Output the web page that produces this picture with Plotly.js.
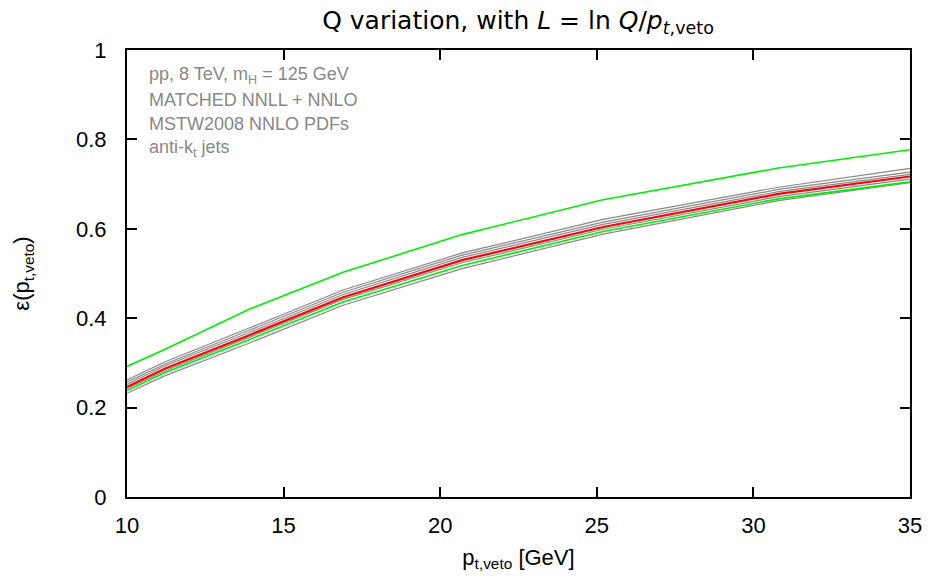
<!DOCTYPE html>
<html>
<head>
<meta charset="utf-8">
<script src="https://cdn.plot.ly/plotly-3.0.1.min.js"></script>
<style>html,body{margin:0;padding:0;background:#fff;}#chart{width:931px;height:580px;}</style>
</head>
<body>
<div id="chart"></div>
<script>
// pt,veto nodes [GeV]
var ptVeto = [10, 11.2, 13.9, 16.9, 20.7, 25.2, 30.8, 35];
// efficiency curves
var greenHi = [0.292, 0.330, 0.420, 0.503, 0.587, 0.665, 0.736, 0.777];
var gray1   = [0.262, 0.302, 0.378, 0.463, 0.546, 0.621, 0.693, 0.735];
var gray2   = [0.257, 0.297, 0.373, 0.458, 0.541, 0.615, 0.688, 0.727];
var gray3   = [0.252, 0.293, 0.368, 0.453, 0.536, 0.610, 0.683, 0.722];
var central = [0.246, 0.287, 0.362, 0.447, 0.530, 0.604, 0.678, 0.717];
var gray4   = [0.242, 0.282, 0.357, 0.442, 0.524, 0.599, 0.672, 0.711];
var greenLo = [0.238, 0.278, 0.352, 0.436, 0.518, 0.594, 0.667, 0.705];
var gray5   = [0.232, 0.271, 0.344, 0.429, 0.511, 0.588, 0.663, 0.703];
var xTicks = [10, 15, 20, 25, 30, 35];
var yTicks = [0, 0.2, 0.4, 0.6, 0.8, 1];
var yTickText = ['0', '0.2', '0.4', '0.6', '0.8', '1'];
var infoLines = ['pp, 8 TeV, m<sub>H</sub> = 125 GeV', 'MATCHED NNLL + NNLO', 'MSTW2008 NNLO PDFs', 'anti-k<sub>t</sub> jets'];

function tr(y, color, w) {
  return {x: ptVeto, y: y, type: 'scatter', mode: 'lines', line: {color: color, width: w}, hoverinfo: 'skip'};
}
var data = [
  tr(gray1, '#888888', 1.2), tr(gray2, '#888888', 1.2), tr(gray3, '#888888', 1.2),
  tr(gray4, '#888888', 1.2), tr(gray5, '#888888', 1.2),
  tr(greenHi, '#00ee00', 1.6), tr(greenLo, '#00ee00', 1.6),
  tr(central, '#ff0000', 2.2)
];

var annotations = infoLines.map(function(t, i) {
  return {xref: 'paper', yref: 'paper', x: 0.026, y: 0.942 - i * 0.054, xanchor: 'left', yanchor: 'middle',
          text: t, showarrow: false, font: {family: 'Liberation Sans, Arial, sans-serif', size: 18, color: '#888888'}};
});

var layout = {
  width: 931, height: 580,
  margin: {l: 127, r: 21, t: 50, b: 83},
  paper_bgcolor: '#fff', plot_bgcolor: '#fff',
  showlegend: false,
  title: {text: 'Q variation, with <i>L</i> = ln <i>Q</i>/<i>p</i><sub><i>t</i>,veto</sub>',
          x: 0.5564, xanchor: 'center', y: 0.965, yanchor: 'middle',
          font: {family: 'DejaVu Sans, sans-serif', size: 25, color: '#000'}},
  xaxis: {range: [10, 35], tickvals: xTicks, ticktext: xTicks.map(String), ticks: 'inside', ticklen: 10, tickwidth: 2,
          tickcolor: '#000', showline: true, linecolor: '#000', linewidth: 2, mirror: 'ticks', showgrid: false, zeroline: false,
          ticklabelstandoff: 8,
          tickfont: {family: 'Liberation Sans, Arial, sans-serif', size: 22, color: '#000'},
          title: {text: 'p<sub>t,veto</sub> [GeV]', standoff: 12, font: {family: 'Liberation Sans, Arial, sans-serif', size: 22, color: '#000'}}},
  yaxis: {range: [0, 1], tickvals: yTicks, ticktext: yTickText, ticks: 'inside', ticklen: 10, tickwidth: 2,
          tickcolor: '#000', showline: true, linecolor: '#000', linewidth: 2, mirror: 'ticks', showgrid: false, zeroline: false,
          ticklabelstandoff: 14,
          tickfont: {family: 'Liberation Sans, Arial, sans-serif', size: 22, color: '#000'},
          title: {text: 'ε(p<sub>t,veto</sub>)', standoff: 40, font: {family: 'Liberation Sans, Arial, sans-serif', size: 22, color: '#000'}}},
  annotations: annotations
};
Plotly.newPlot('chart', data, layout, {displayModeBar: false, staticPlot: true});
</script>
</body>
</html>
